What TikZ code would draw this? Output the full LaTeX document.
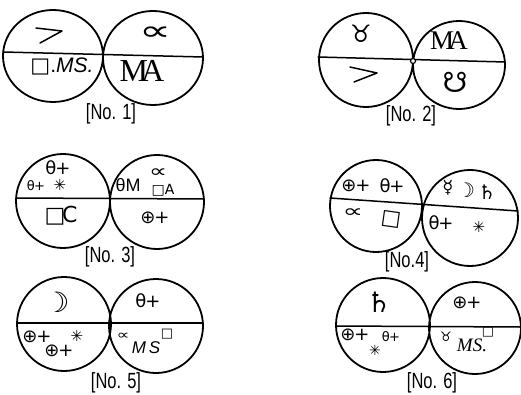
\documentclass[tikz,border=0pt]{standalone}
\usepackage{fontspec}
\usepackage{graphicx}
\setmainfont{Liberation Sans}
\newfontfamily\symf{DejaVu Sans}
\newfontfamily\serf{Liberation Serif}
\usetikzlibrary{arrows.meta}
\tikzset{
  every picture/.style={line join=round, line cap=round},
  ring/.style={line width=1.8pt},
  cut/.style={line width=1.5pt},
  hook/.style={line width=1.5pt},
  glyph/.style={inner sep=0pt, font=\symf\fontsize{18}{18}\selectfont},
  tiny glyph/.style={inner sep=0pt, font=\symf\fontsize{13}{13}\selectfont},
  big glyph/.style={inner sep=0pt, font=\symf\fontsize{28}{28}\selectfont},
  mono/.style={inner sep=0pt, font=\serf\fontsize{30}{30}\selectfont},
  caption/.style={inner sep=0pt, font=\fontsize{22}{22}\selectfont},
}
\newcommand{\thp}{θ\kern-.06em+}
\newcommand{\opl}{⊕\kern-.06em+}
\newcommand{\sxt}{✳}
\newcommand{\ma}{M\kern-.22em A}
\newcommand{\capt}[1]{\scalebox{.75}[1]{#1}}
\newcommand{\prop}[1]{\scalebox{#1}[1]{∝}}

\begin{document}
\begin{tikzpicture}[x=1pt,y=-1pt]
\useasboundingbox (0,0) rectangle (521,395);
\draw[ring](53,56)ellipse[x radius=50pt,y radius=46pt]
(153,58)ellipse[x radius=50pt,y radius=47pt];
\draw[cut](3,52)--(203,57);
\draw[hook](36,28)--(62,31)--(40,43);
\node[glyph,font=\symf\fontsize{28}{28}\selectfont](a1) at (155,34){\prop{1.6}};
\node[inner sep=0pt,font=\fontsize{21}{21}\selectfont](a2) at (62,66){{\symf □}.\textit{MS.}};
\node[mono,font=\serf\fontsize{32}{32}\selectfont](a3) at (142,71){\ma};
\node[caption](a4) at (111,114){\capt{[No. 1]}};

\draw[ring](366,60)circle[radius=47pt]
(459,65)ellipse[x radius=46pt,y radius=44pt];
\draw[cut](318,57)--(505,62);
\draw[line width=1.2pt,fill=white](413,61)circle[radius=2.5pt];
\draw[hook](350,67)--(377,73)--(354,82);
\node[glyph,font=\symf\fontsize{24}{24}\selectfont](b1) at (361,34){♉};
\node[mono,font=\serf\fontsize{27}{27}\selectfont](b2) at (449,41){\ma};
\node[glyph,font=\symf\fontsize{28}{28}\selectfont](b3) at (455,82){☋};
\node[caption](b4) at (411,116){\capt{[No. 2]}};

\draw[ring](63,201)circle[radius=47pt]
(157,202)circle[radius=47pt];
\draw[cut](16,198)--(204,199);
\node[glyph](c1) at (58,168){\thp};
\node[tiny glyph](c2) at (36,186){\thp};
\node[glyph,font=\symf\fontsize{15}{15}\selectfont](c3) at (60,185){\sxt};
\node[glyph,font=\symf\fontsize{22}{22}\selectfont](c4) at (61,216){□\kern-.15em C};
\node[glyph,font=\fontsize{18}{18}\selectfont](c5) at (128,185){θM};
\node[glyph](c6) at (158,173){\prop{1.4}};
\node[glyph,font=\symf\fontsize{14}{14}\selectfont](c7) at (163,190){□A};
\node[glyph](c8) at (155,218){\opl};
\node[caption](c9) at (110,257){\capt{[No. 3]}};

\draw[ring](376,206)circle[radius=46pt]
(470,218)circle[radius=48pt];
\draw[cut](330,198)--(518,211);
\node[glyph](d1) at (356,186){\opl};
\node[glyph](d2) at (392,186){\thp};
\node[glyph](d3) at (448,188){☿};
\node[glyph,font=\symf\fontsize{20}{20}\selectfont](d4) at (466,190){☽};
\node[glyph,font=\symf\fontsize{20}{20}\selectfont](d5) at (487,192){♄};
\node[glyph](d6) at (353,213){\prop{1.6}};
\node[glyph,font=\symf\fontsize{21}{21}\selectfont,rotate=-8](d7) at (391,219){□};
\node[glyph](d8) at (441,223){\thp};
\node[glyph,font=\symf\fontsize{15}{15}\selectfont](d9) at (479,227){\sxt};
\node[caption](d10) at (407,262){\capt{[No.4]}};

\draw[ring](64,324)circle[radius=47pt]
(156,326)circle[radius=47pt];
\draw[cut](18,323)--(203,323);
\node[big glyph](e1) at (57,302){☽};
\node[glyph](e2) at (148,301){\thp};
\node[glyph](e3) at (37,337){\opl};
\node[glyph,font=\symf\fontsize{15}{15}\selectfont](e4) at (77,336){\sxt};
\node[glyph](e5) at (59,351){\opl};
\node[tiny glyph](e6) at (123,336){\prop{1.4}};
\node[tiny glyph](e7) at (167,334){□};
\node[inner sep=0pt,font=\fontsize{17}{17}\selectfont\itshape](e8) at (146,348){M\,S};
\node[caption](e9) at (116,383){\capt{[No. 5]}};

\draw[ring](383,325)circle[radius=47pt]
(475,328)circle[radius=46pt];
\draw[cut](336,326)--(520,327);
\node[big glyph](f1) at (379,302){♄};
\node[glyph](f2) at (467,303){\opl};
\node[glyph](f3) at (355,335){\opl};
\node[tiny glyph](f4) at (391,337){\thp};
\node[glyph,font=\symf\fontsize{14}{14}\selectfont](f5) at (375,350){\sxt};
\node[tiny glyph](f6) at (446,337){♉};
\node[tiny glyph](f7) at (488,332){□};
\node[inner sep=0pt,font=\serf\fontsize{19}{19}\selectfont\itshape](f8) at (472,345){MS.};
\node[caption](f9) at (432,383){\capt{[No. 6]}};
\end{tikzpicture}
\end{document}
